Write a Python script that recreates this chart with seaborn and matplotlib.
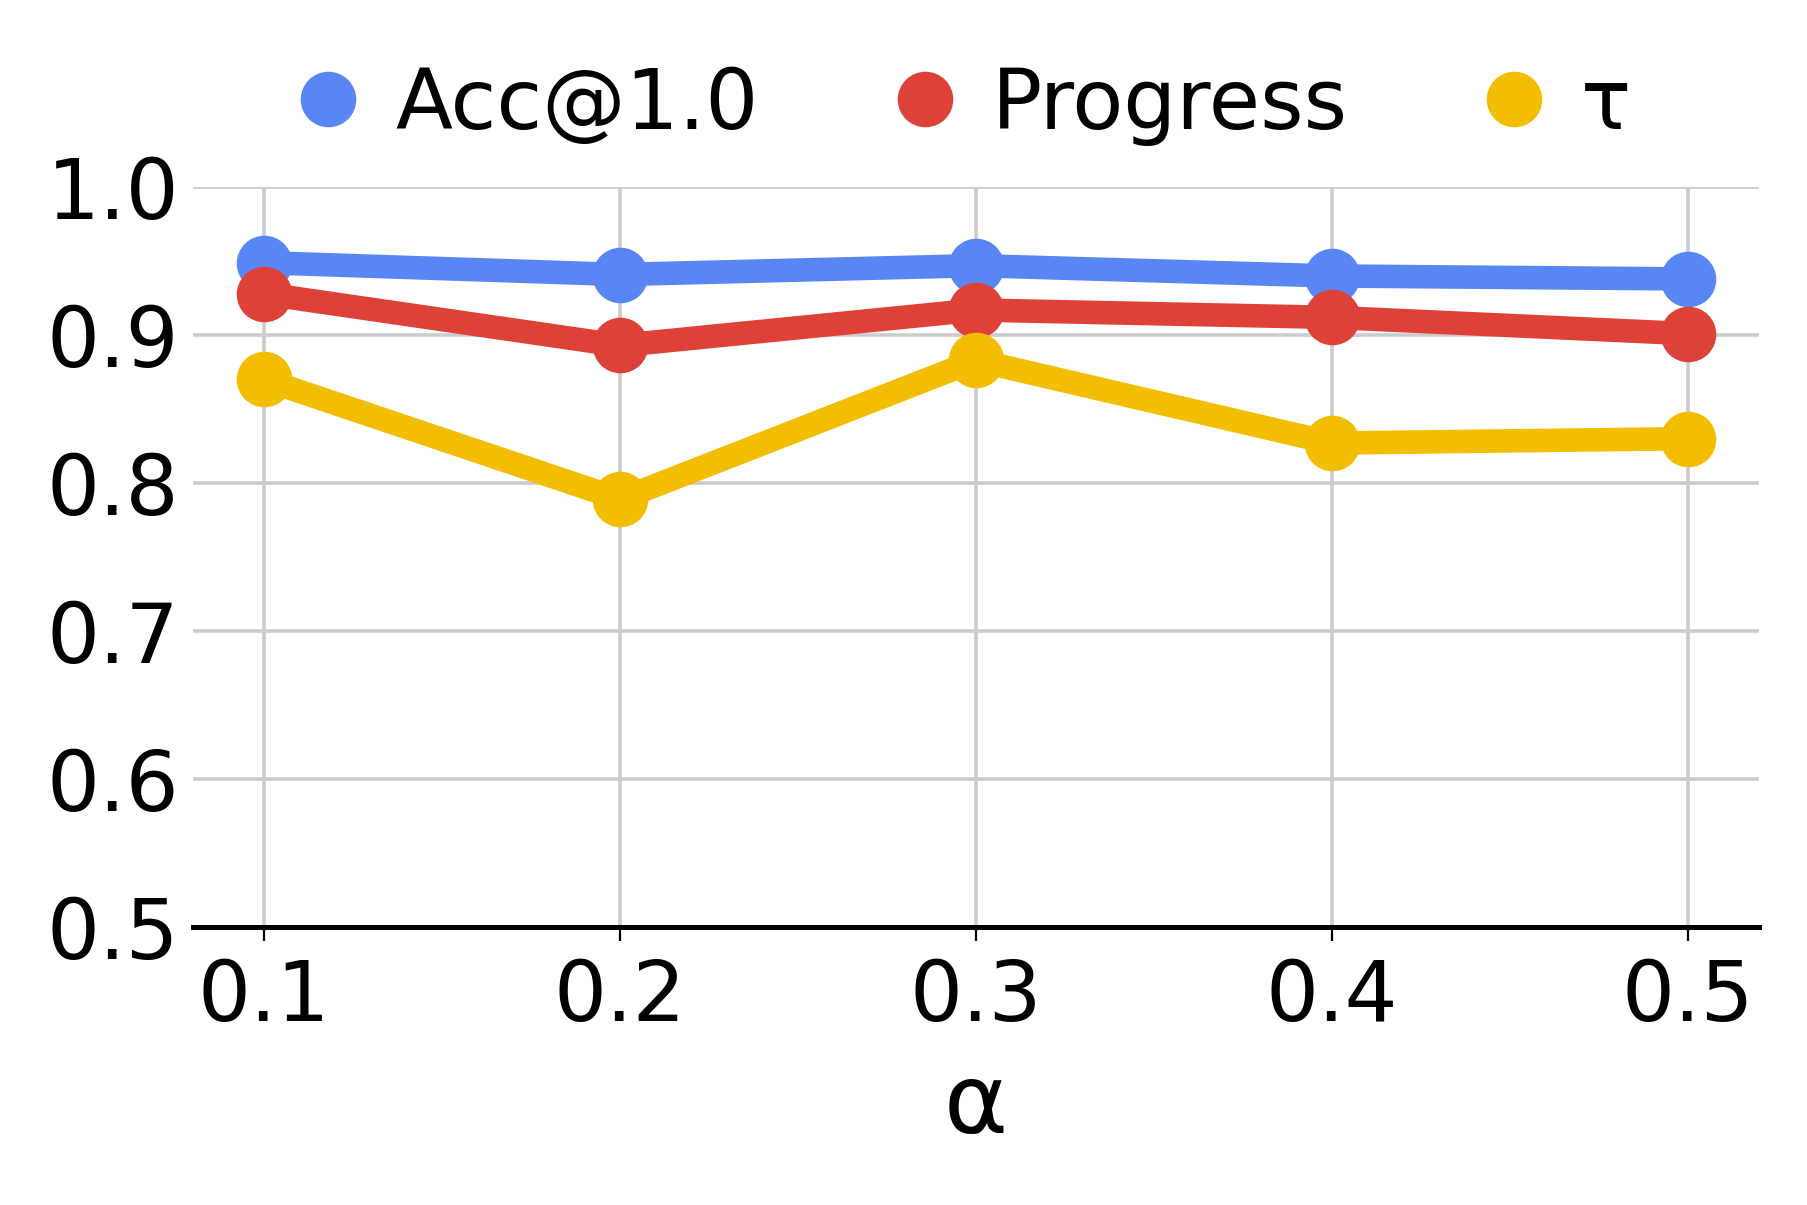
import matplotlib
matplotlib.use("Agg")
import matplotlib.pyplot as plt
import seaborn as sns
import pandas as pd
from matplotlib.lines import Line2D

alphas = [0.1, 0.2, 0.3, 0.4, 0.5]
acc = [0.949, 0.941, 0.947, 0.940, 0.938]
progress = [0.928, 0.893, 0.917, 0.912, 0.901]
tau = [0.870, 0.789, 0.883, 0.827, 0.830]
series_names = ["Acc@1.0", "Progress", "τ"]
colors = ["#5886F5", "#DE4137", "#F4BE00"]
yticks = [0.5, 0.6, 0.7, 0.8, 0.9, 1.0]

df = pd.DataFrame({
    "alpha": alphas * 3,
    "value": acc + progress + tau,
    "metric": [series_names[0]] * 5 + [series_names[1]] * 5 + [series_names[2]] * 5,
})

sns.set_theme(style="whitegrid")
plt.rcParams["font.family"] = ["DejaVu Sans"]
plt.rcParams["text.color"] = "black"

dpi = 200
fig = plt.figure(figsize=(1808 / dpi, 1205 / dpi), dpi=dpi)
ax = fig.add_axes([0.1067, 0.231, 0.8664, 0.6136])

sns.lineplot(data=df, x="alpha", y="value", hue="metric", palette=colors,
             marker="o", markersize=20, linewidth=8.5, markeredgewidth=0,
             ax=ax, legend=False)

ax.set_xlim(0.08, 0.52)
ax.set_ylim(0.5, 1.0)
ax.set_xticks(alphas)
ax.set_xticklabels([f"{a:.1f}" for a in alphas])
ax.set_yticks(yticks)
ax.set_yticklabels([f"{v:.1f}" for v in yticks])
ax.set_xlabel("α", fontsize=35, labelpad=8, color="black")
ax.set_ylabel("")

ax.grid(True, color="#cccccc", linewidth=1.3)
for s in ["top", "right", "left"]:
    ax.spines[s].set_visible(False)
ax.spines["bottom"].set_color("black")
ax.spines["bottom"].set_linewidth(1.8)
ax.tick_params(axis="x", which="both", bottom=True, length=5, width=0.8,
               color="black", labelsize=30, pad=6, labelcolor="black")
ax.tick_params(axis="y", left=False, length=0, labelsize=30, pad=5, labelcolor="black")

handles = [Line2D([], [], marker="o", linestyle="", color=c, markersize=20,
                  markeredgewidth=0) for c in colors]
leg = ax.legend(handles, series_names, loc="lower center", bbox_to_anchor=(0.489, 1.0),
                ncol=3, frameon=False, fontsize=30, handletextpad=0.3,
                columnspacing=1.5, borderaxespad=0.1, handlelength=1.0)
for t in leg.get_texts():
    t.set_color("black")

fig.savefig("out.png", dpi=dpi)
